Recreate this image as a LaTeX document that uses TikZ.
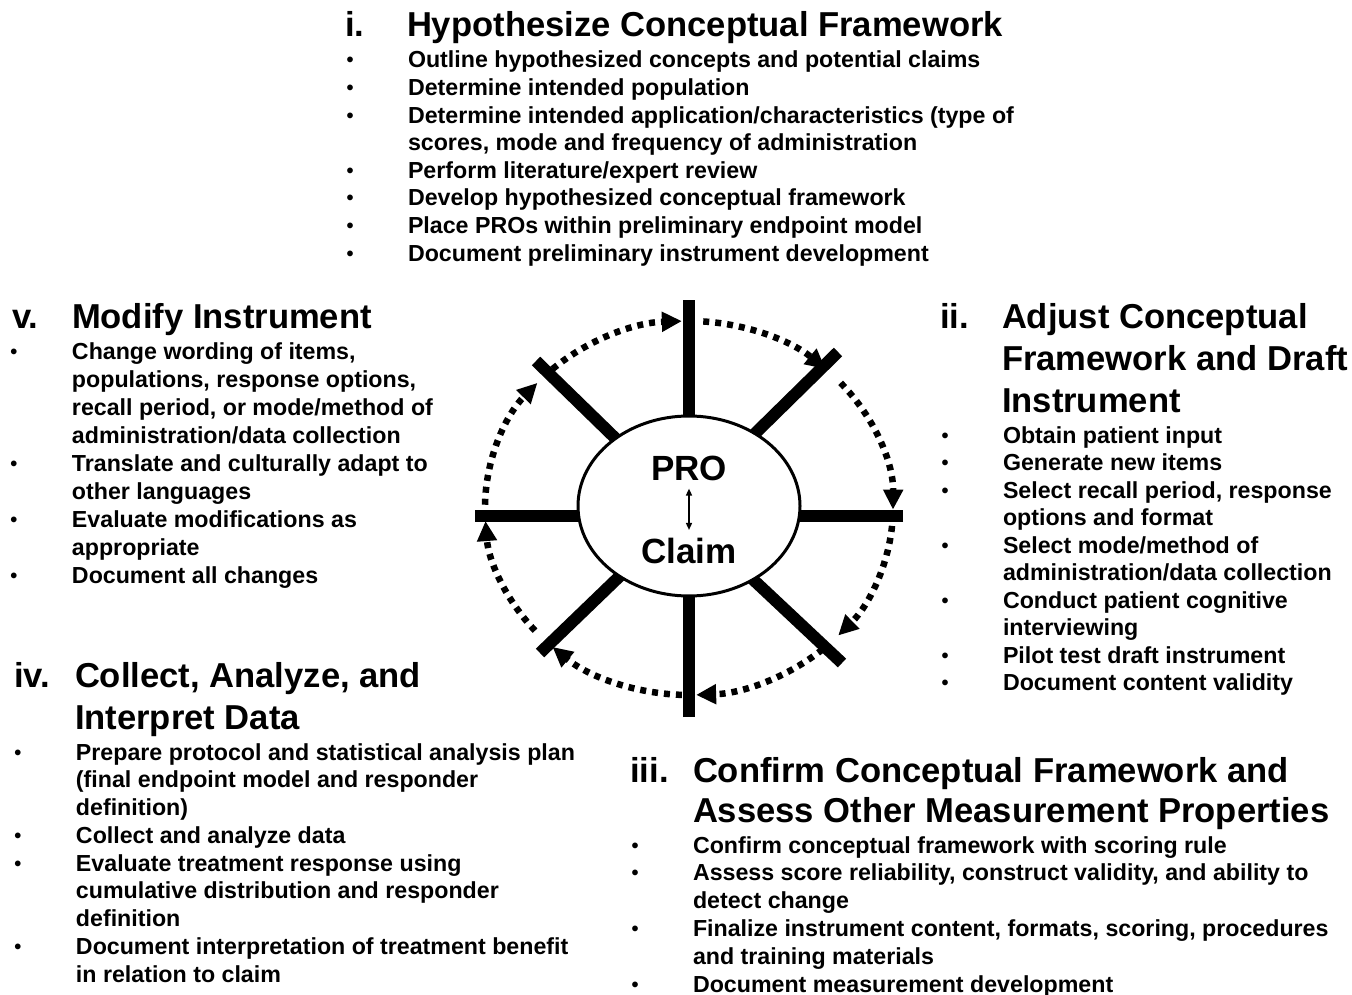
\documentclass[tikz,border=0pt]{standalone}
\usepackage{fontspec}
\setmainfont{Liberation Sans}
\usetikzlibrary{arrows.meta,shapes.geometric}
\newcommand\bul{\makebox[58pt][l]{\makebox[0pt]{\raisebox{1pt}{\fontsize{20}{20}\selectfont\textbullet}}}}
\newcommand\blist[2]{{\fontsize{23.2}{#1}\selectfont\bfseries\begin{tabular}[t]{@{}l@{}l@{}}#2\end{tabular}}}
\newcommand\ttl[2]{{\fontsize{34.6}{#1}\selectfont\bfseries\begin{tabular}[t]{@{}l@{}}#2\end{tabular}}}
\begin{document}
\begin{tikzpicture}[x=1pt,y=-1pt,
  txt/.style={anchor=base west,inner sep=0pt,outer sep=0pt},
  num/.style={anchor=base west,inner sep=0pt,font=\fontsize{34.6}{40}\selectfont\bfseries},
  spoke/.style={line width=12pt},
  dotarc/.style={line width=6.5pt,dash pattern=on 6pt off 6pt,-{Triangle[length=20pt,width=19pt]}},
  hub/.style={ellipse,draw,line width=3pt,fill=white,minimum width=222pt,minimum height=180pt,inner sep=0pt},
  centre/.style={inner sep=0pt,font=\fontsize{35}{35}\selectfont\bfseries}]
\useasboundingbox[fill=white] (0,0) rectangle (1352,995);

% ---- spokes ----
\coordinate (C) at (689,508);
\coordinate (sTo) at (689,300); \coordinate (sTi) at (689,470);
\coordinate (sBo) at (689,717); \coordinate (sBi) at (689,550);
\coordinate (sLo) at (475,516); \coordinate (sLi) at (640,516);
\coordinate (sRo) at (903,516); \coordinate (sRi) at (740,516);
\coordinate (sTLo) at (536,361); \coordinate (sTLi) at (650,472);
\coordinate (sTRo) at (838,352); \coordinate (sTRi) at (725,463);
\coordinate (sBLo) at (540,653); \coordinate (sBLi) at (650,547);
\coordinate (sBRo) at (842,663); \coordinate (sBRi) at (728,556);
\foreach \s in {sT,sB,sL,sR,sTL,sTR,sBL,sBR}{\draw[spoke] (\s o) -- (\s i);}

% ---- hub ----
\node[hub] (E) at (689,506) {};
\node[centre] (pro) at (689,468) {PRO};
\node[centre] (claim) at (689,551) {Claim};
\draw[line width=1.5pt,{Triangle[length=7pt,width=6pt]}-{Triangle[length=7pt,width=6pt]},shorten <=8pt,shorten >=8pt] (pro.south) -- (claim.north);

% ---- dotted cycle arrows ----
\foreach \a/\b in {-86/-48, -42/0.5, 5.5/43, 49/88, 92/132, 139/176, 181/222, 228/268}{
  \draw[dotarc] (C) ++(\a:204 and 187) arc[start angle=\a,end angle=\b,x radius=204,y radius=187];}

% ---- section i ----
\node[num] (n1) at (345,37) {i.};
\node[txt] (t1) at (407,37) {\ttl{40}{Hypothesize Conceptual Framework}};
\node[txt] (b1) at (350,68) {\blist{27.6}{%
\bul&Outline hypothesized concepts and potential claims\\
\bul&Determine intended population\\
\bul&Determine intended application/characteristics (type of\\
&scores, mode and frequency of administration\\
\bul&Perform literature/expert review\\
\bul&Develop hypothesized conceptual framework\\
\bul&Place PROs within preliminary endpoint model\\
\bul&Document preliminary instrument development}};

% ---- section ii ----
\node[num] (n2) at (940,328) {ii.};
\node[txt] (t2) at (1002,328) {\ttl{42}{Adjust Conceptual\\Framework and Draft\\Instrument}};
\node[txt] (b2) at (945,443) {\blist{27.5}{%
\bul&Obtain patient input\\
\bul&Generate new items\\
\bul&Select recall period, response\\
&options and format\\
\bul&Select mode/method of\\
&administration/data collection\\
\bul&Conduct patient cognitive\\
&interviewing\\
\bul&Pilot test draft instrument\\
\bul&Document content validity}};

% ---- section iii ----
\node[num] (n3) at (630,782) {iii.};
\node[txt] (t3) at (693,782) {\ttl{40}{Confirm Conceptual Framework and\\Assess Other Measurement Properties}};
\node[txt] (b3) at (635,853) {\blist{27.8}{%
\bul&Confirm conceptual framework with scoring rule\\
\bul&Assess score reliability, construct validity, and ability to\\
&detect change\\
\bul&Finalize instrument content, formats, scoring, procedures\\
&and training materials\\
\bul&Document measurement development}};

% ---- section iv ----
\node[num] (n4) at (14,687) {iv.};
\node[txt] (t4) at (75,687) {\ttl{42}{Collect, Analyze, and\\Interpret Data}};
\node[txt] (b4) at (18,760) {\blist{27.75}{%
\bul&Prepare protocol and statistical analysis plan\\
&(final endpoint model and responder\\
&definition)\\
\bul&Collect and analyze data\\
\bul&Evaluate treatment response using\\
&cumulative distribution and responder\\
&definition\\
\bul&Document interpretation of treatment benefit\\
&in relation to claim}};

% ---- section v ----
\node[num] (n5) at (12,328) {v.};
\node[txt] (t5) at (72,328) {\ttl{42}{Modify Instrument}};
\node[txt] (b5) at (14,359) {\blist{28}{%
\bul&Change wording of items,\\
&populations, response options,\\
&recall period, or mode/method of\\
&administration/data collection\\
\bul&Translate and culturally adapt to\\
&other languages\\
\bul&Evaluate modifications as\\
&appropriate\\
\bul&Document all changes}};
\end{tikzpicture}
\end{document}
